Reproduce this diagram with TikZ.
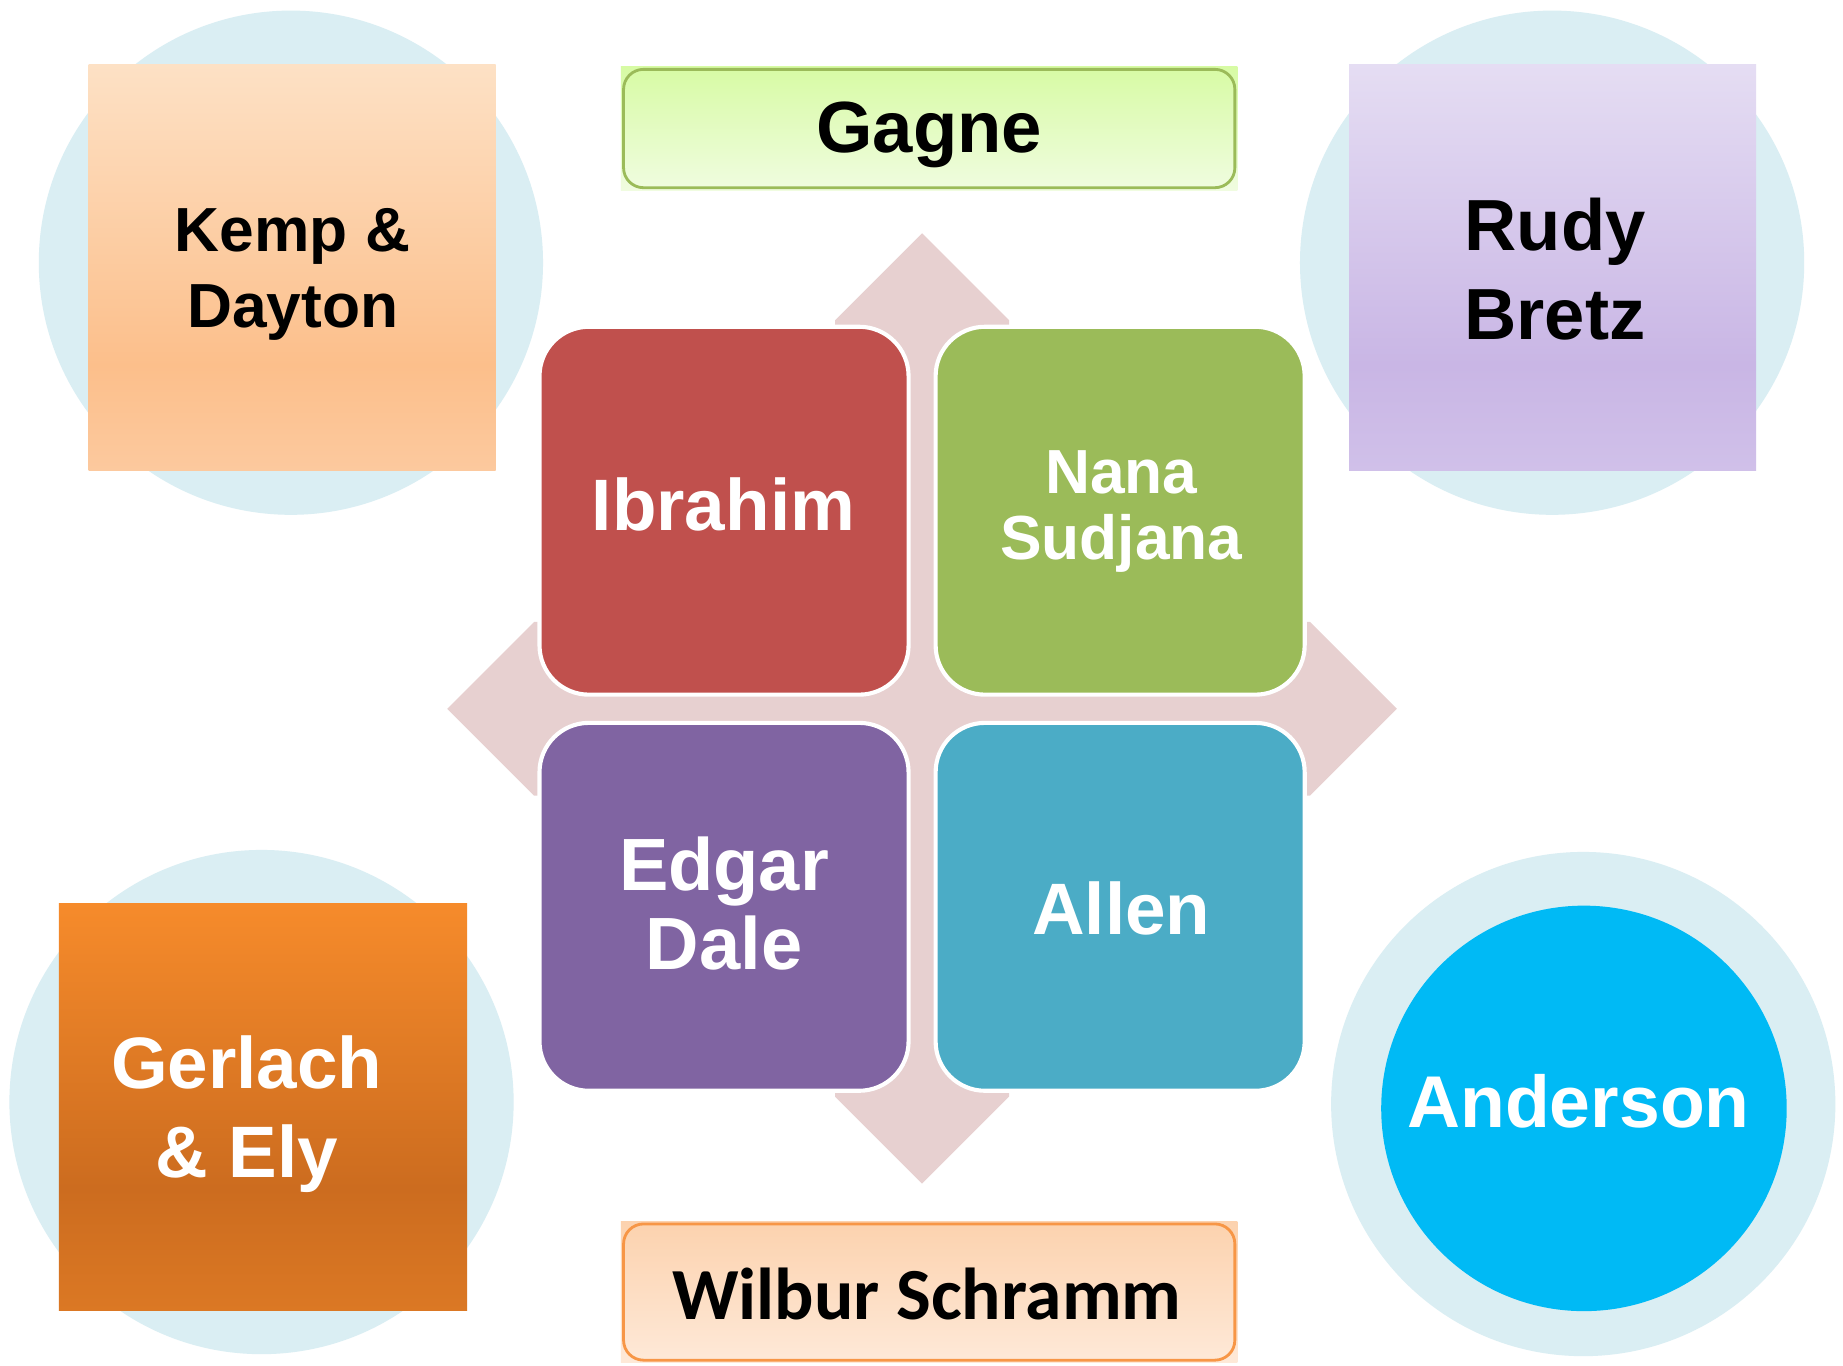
\documentclass[tikz,border=0pt]{standalone}
\usepackage{fontspec}
\setmainfont{Liberation Sans}
\newfontfamily\calfont{Carlito}

% palette
\definecolor{haze}{RGB}{218,238,243}
\definecolor{crosspink}{RGB}{231,208,208}
\definecolor{ibrred}{RGB}{192,80,77}
\definecolor{nanagreen}{RGB}{155,187,89}
\definecolor{edgarpurple}{RGB}{128,100,162}
\definecolor{allenteal}{RGB}{75,172,198}
\definecolor{andersonblue}{RGB}{0,186,245}
\definecolor{kemptop}{RGB}{253,225,197}
\definecolor{kempmid}{RGB}{252,191,139}
\definecolor{kempbot}{RGB}{252,201,158}
\definecolor{rudytop}{RGB}{229,221,243}
\definecolor{rudymid}{RGB}{201,182,229}
\definecolor{rudybot}{RGB}{208,192,233}
\definecolor{gerltop}{RGB}{246,139,43}
\definecolor{gerlmid}{RGB}{204,108,31}
\definecolor{gerlbot}{RGB}{219,120,36}
\definecolor{gagnetop}{RGB}{215,251,164}
\definecolor{gagnebot}{RGB}{240,252,224}
\definecolor{gagneline}{RGB}{155,187,89}
\definecolor{wilbtop}{RGB}{252,210,174}
\definecolor{wilbbot}{RGB}{254,233,216}
\definecolor{wilbline}{RGB}{247,150,70}

% three-stop vertical gradients (path spans 25bp..75bp)
\pgfdeclareverticalshading{kempshade}{100bp}{color(0bp)=(kempbot); color(25bp)=(kempbot); color(38bp)=(kempmid); color(75bp)=(kemptop); color(100bp)=(kemptop)}
\pgfdeclareverticalshading{rudyshade}{100bp}{color(0bp)=(rudybot); color(25bp)=(rudybot); color(38bp)=(rudymid); color(75bp)=(rudytop); color(100bp)=(rudytop)}
\pgfdeclareverticalshading{gerlshade}{100bp}{color(0bp)=(gerlbot); color(25bp)=(gerlbot); color(40bp)=(gerlmid); color(75bp)=(gerltop); color(100bp)=(gerltop)}

\newcommand{\fsz}[2]{\fontsize{#1}{#2}\selectfont\bfseries}

\begin{document}
\begin{tikzpicture}[x=1pt,y=-1pt,
  disc/.style={circle, fill=haze, draw=none, minimum size=429pt, inner sep=0pt},
  cell/.style={draw=white, line width=3.5pt, rounded corners=42pt},
  whitetext/.style={text=white, align=center, inner sep=0pt, anchor=base},
  darktext/.style={text=black, align=center, inner sep=0pt, anchor=base},
  banner/.style={rounded corners=17pt, line width=2.4pt}
]
\useasboundingbox[fill=white] (0,0) rectangle (1568,1162);

% pale discs behind the corner cards
\node[disc] (kempdisc) at (247.5,223.5) {};
\node[disc] (rudydisc) at (1320.5,223.5) {};
\node[disc] (gerldisc) at (222.5,937.6) {};
\node[disc] (anddisc)  at (1347,939.3) {};

% corner cards
\shade[shading=kempshade] (75.5,54.5) rectangle (421.7,400.2);
\shade[shading=rudyshade] (1147.7,54.5) rectangle (1494,400.2);
\shade[shading=gerlshade] (50.1,768.4) rectangle (397.4,1114.7);
\node[circle, fill=andersonblue, minimum size=345pt, inner sep=0pt] (andcore) at (1347.6,943) {};

% four-way arrow behind the matrix
\fill[crosspink] (784.5,198.5) -- (858.5,272.5) -- (858.5,529) -- (1114.5,529)
  -- (1188.5,603) -- (1114.5,677) -- (858.5,677) -- (858.5,933) -- (784.5,1007)
  -- (710.5,933) -- (710.5,677) -- (454.5,677) -- (380.5,603) -- (454.5,529)
  -- (710.5,529) -- (710.5,272.5) -- cycle;

% matrix cells
\draw[cell, fill=ibrred]      (459,278) rectangle (773,591);
\draw[cell, fill=nanagreen]   (796,278) rectangle (1110,591);
\draw[cell, fill=edgarpurple] (459,615) rectangle (773,928);
\draw[cell, fill=allenteal]   (796,615) rectangle (1110,928);

% top and bottom banners
\shade[top color=gagnetop, bottom color=gagnebot] (528.3,56.7) rectangle (1052.8,162);
\draw[banner, draw=gagneline] (530.5,59) rectangle (1050.6,159.7);
\shade[top color=wilbtop, bottom color=wilbbot] (528.3,1039) rectangle (1052.8,1159.5);
\draw[banner, draw=wilbline] (530.5,1041.3) rectangle (1050.6,1157.2);

% labels (base anchor sits on the last line)
\node[darktext, font=\fsz{61.7}{74}] (gagne) at (790.5,129.6) {Gagne};
\node[darktext, font=\calfont\fsz{62.5}{75}] (wilbur) at (788.5,1123) {Wilbur Schramm};
\node[darktext, font=\fsz{53}{65}] (kemp) at (249,279) {Kemp \&\\Dayton};
\node[darktext, font=\fsz{61.6}{76}] (rudy) at (1323,289) {Rudy\\Bretz};
\node[whitetext, font=\fsz{62}{75.6}] (gerlach) at (210,1002) {Gerlach\\\& Ely};
\node[whitetext, font=\fsz{62.4}{75}] (anderson) at (1343,959) {Anderson};
\node[whitetext, font=\fsz{62}{74}] (ibrahim) at (615.5,451) {Ibrahim};
\node[whitetext, font=\fsz{53}{56}] (nana) at (954,476) {Nana\\Sudjana};
\node[whitetext, font=\fsz{63}{67}] (edgar) at (616,825) {Edgar\\Dale};
\node[whitetext, font=\fsz{62}{74}] (allen) at (954,795) {Allen};
\end{tikzpicture}
\end{document}
